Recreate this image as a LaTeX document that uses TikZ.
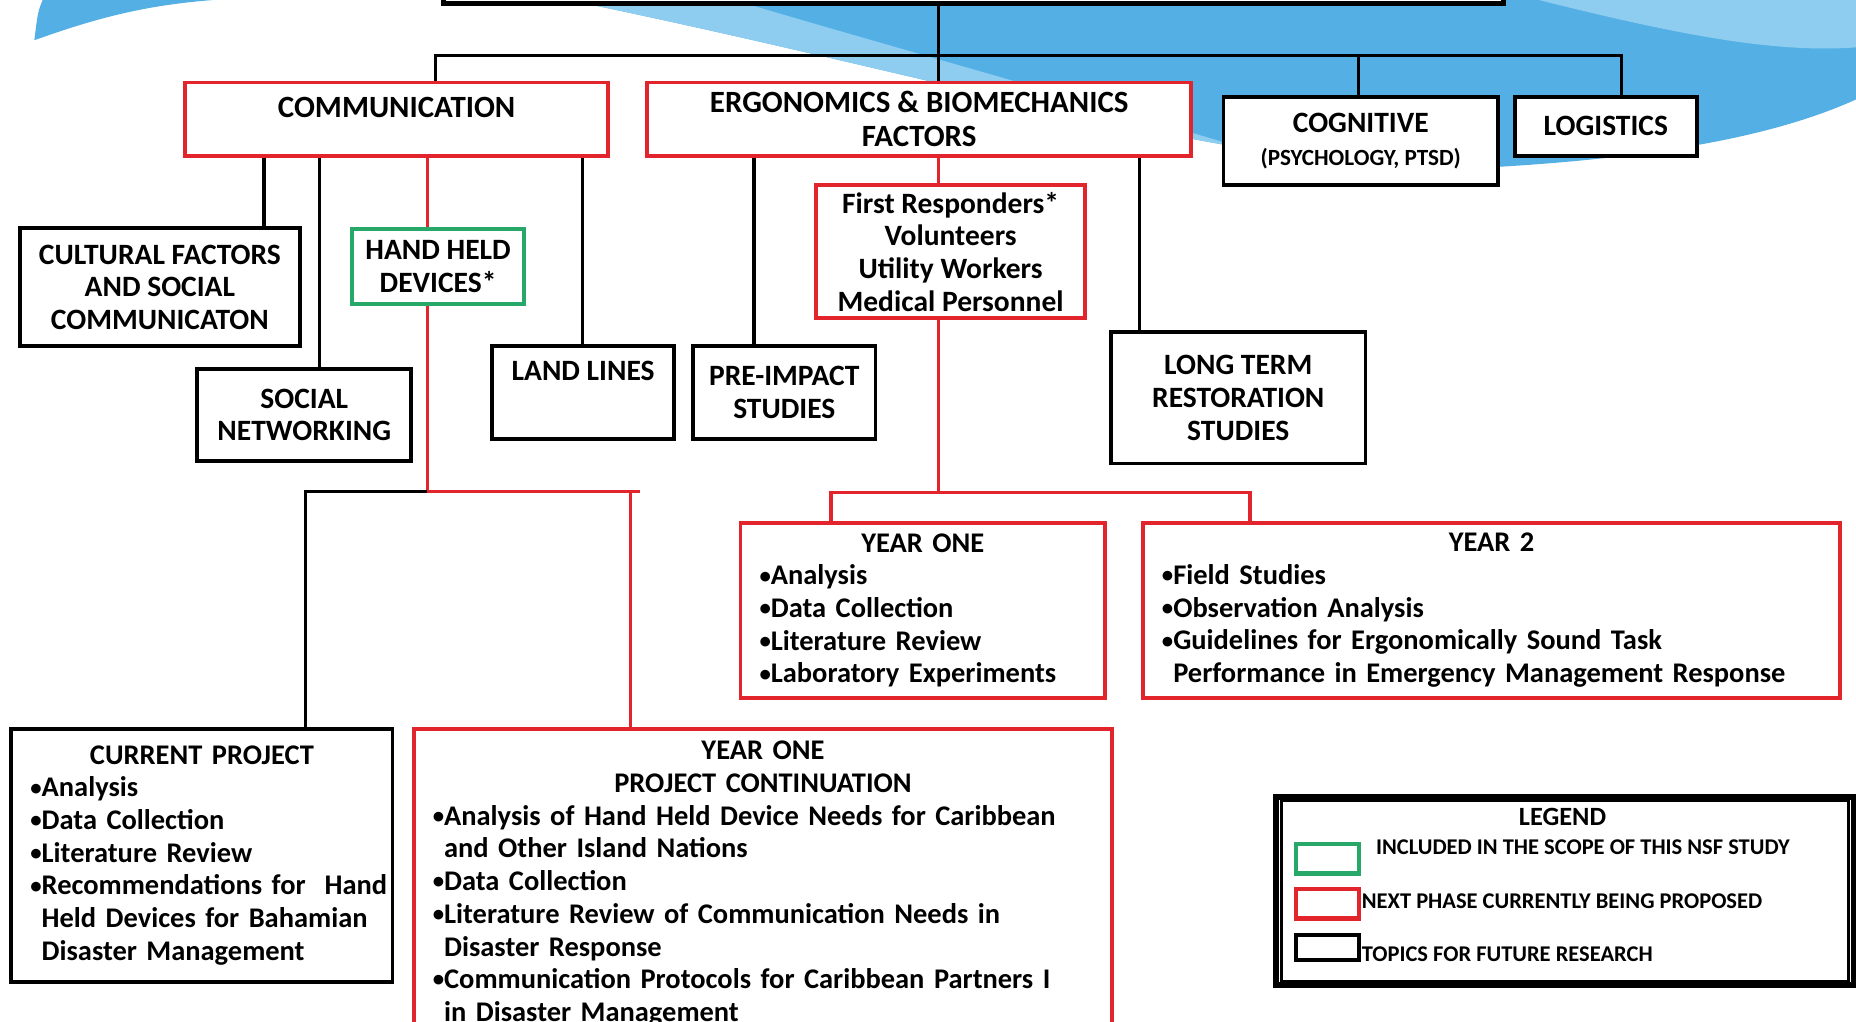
\documentclass[tikz,border=0pt]{standalone}
\usepackage{fontspec}
\setmainfont{Carlito}
\usetikzlibrary{fit}

\definecolor{tabred}{RGB}{226,36,44}
\definecolor{tabgreen}{RGB}{40,168,104}
\definecolor{skyblue}{RGB}{84,176,228}
\definecolor{skylight}{RGB}{142,205,240}
\newcommand{\dotitem}{\raisebox{0.5pt}{\scalebox{0.8}{•}}}
\newcommand{\midline}[1]{\leavevmode\null\hfill#1\hfill\null}

\begin{document}
\begin{tikzpicture}[
    x=0.011837cm, y=-0.011837cm,
    box/.style={draw, fill=white, line width=1.1pt, inner sep=0pt, align=center, anchor=north west,
        font=\bfseries\fontsize{8.4}{9.3}\selectfont},
    redbox/.style={box, draw=tabred},
    greenbox/.style={box, draw=tabgreen},
    bigbox/.style={redbox, font=\bfseries\fontsize{8.8}{9.8}\selectfont},
    listbox/.style={box, align=left, font=\bfseries\fontsize{8.1}{9.3}\selectfont},
    frame/.style={draw, fill=white, inner sep=0pt},
    link/.style={line width=0.9pt},
    redlink/.style={link, draw=tabred},
    swatch/.style={draw, line width=1.3pt, inner sep=0pt},
    legtext/.style={anchor=west, inner sep=0pt, font=\bfseries\fontsize{6.4}{7}\selectfont}
]
\clip (0,0) rectangle (1568,863);

% background swoosh
\fill[skyblue] (29,34) .. controls (90,12) and (130,4) .. (180,0) -- (36,0) .. controls (32,10) .. (29,34);
\fill[skyblue] (480,0) .. controls (700,45) and (900,100) .. (1050,125)
    .. controls (1150,142) and (1220,145) .. (1265,141)
    .. controls (1400,133) and (1500,115) .. (1568,84) -- (1568,0) -- cycle;
\fill[skylight] (480,0) .. controls (700,45) and (900,100) .. (1050,125)
    .. controls (900,80) and (720,30) .. (620,0) -- cycle;
\fill[skylight] (1300,0) .. controls (1420,30) and (1500,45) .. (1568,40) -- (1568,0) -- cycle;

% top level
\node[frame, line width=1.4pt, fit={(375,-60) (1270,3)}] (title) {};
\node[bigbox, minimum width=4.226cm, minimum height=0.734cm, text height=5.7pt, text depth=6.4pt]
    (comm) at (155,68) {COMMUNICATION};
\node[bigbox, minimum width=5.445cm, minimum height=0.734cm] (ergo) at (545,68)
    {ERGONOMICS \& BIOMECHANICS\\FACTORS};
\node[box, minimum width=2.746cm, minimum height=0.888cm] (cog) at (1032,80)
    {COGNITIVE\\{\fontsize{6.6}{9.3}\selectfont (PSYCHOLOGY, PTSD)}};
\node[box, minimum width=1.823cm, minimum height=0.592cm] (logi) at (1278,80) {LOGISTICS};

% communication branch
\node[box, minimum width=2.805cm, minimum height=1.184cm] (cult) at (15,191)
    {CULTURAL FACTORS\\AND SOCIAL\\COMMUNICATON};
\node[greenbox, minimum width=1.716cm, minimum height=0.746cm] (hand) at (296,192) {HAND HELD\\DEVICES*};
\node[box, minimum width=2.142cm, minimum height=0.923cm] (soc) at (165,310) {SOCIAL\\NETWORKING};
\node[box, minimum width=1.823cm, minimum height=0.923cm, text height=7pt, text depth=13.7pt]
    (land) at (414,291) {LAND LINES};

% ergonomics branch
\node[box, minimum width=1.823cm, minimum height=0.923cm] (pre) at (584,291) {PRE-IMPACT\\STUDIES};
\node[redbox, minimum width=2.687cm, minimum height=1.326cm] (first) at (688,155)
    {First Responders*\\Volunteers\\Utility Workers\\Medical Personnel};
\node[box, minimum width=2.545cm, minimum height=1.314cm] (long) at (937,279)
    {LONG TERM\\RESTORATION\\STUDIES};

% project phases
\node[listbox, draw=tabred, minimum width=3.646cm, minimum height=1.752cm, text width=3.267cm]
    (yone) at (624,440)
    {\midline{YEAR ONE}\\ \dotitem Analysis\\ \dotitem Data Collection\\
     \dotitem Literature Review\\ \dotitem Laboratory Experiments};
\node[listbox, draw=tabred, minimum width=6.972cm, minimum height=1.752cm, text width=6.593cm]
    (ytwo) at (964,440)
    {\midline{YEAR 2}\\ \dotitem Field Studies\\ \dotitem Observation Analysis\\
     \dotitem Guidelines for Ergonomically Sound Task\\
     \phantom{\dotitem}Performance in Emergency Management Response};
\node[listbox, minimum width=3.812cm, minimum height=2.533cm, text width=3.433cm] (cur) at (8,614)
    {\midline{CURRENT PROJECT}\\ \dotitem Analysis\\ \dotitem Data Collection\\
     \dotitem Literature Review\\ \mbox{\dotitem Recommendations for\ \ Hand}\\
     \phantom{\dotitem}Held Devices for Bahamian\\ \phantom{\dotitem}Disaster Management};
\node[listbox, draw=tabred, minimum width=6.984cm, minimum height=3.101cm, text width=6.605cm]
    (cont) at (348,614)
    {\midline{YEAR ONE}\\ \midline{PROJECT CONTINUATION}\\
     \dotitem Analysis of Hand Held Device Needs for Caribbean\\ \phantom{\dotitem}and Other Island Nations\\
     \dotitem Data Collection\\ \dotitem Literature Review of Communication Needs in\\
     \phantom{\dotitem}Disaster Response\\
     \dotitem Communication Protocols for Caribbean Partners I\\ \phantom{\dotitem}in Disaster Management};

% connectors
\draw[link] (793,0 |- title.south) -- (793,0 |- ergo.north);
\draw[link] (368,0 |- comm.north) -- (368,47) -- (1370,47) -- (1370,0 |- logi.north);
\draw[link] (1148,47) -- (1148,0 |- cog.north);

\draw[link] (223,0 |- comm.south) -- (223,0 |- cult.north);
\draw[link] (270,0 |- comm.south) -- (270,0 |- soc.north);
\draw[redlink] (361,0 |- comm.south) -- (361,0 |- hand.north);
\draw[link] (492,0 |- comm.south) -- (492,0 |- land.north);
\draw[redlink] (361,0 |- hand.south) -- (361,415) -- (541,415);
\draw[redlink] (533,415) -- (533,0 |- cont.north);
\draw[link] (361,415) -- (258,415) -- (258,0 |- cur.north);

\draw[link] (637,0 |- ergo.south) -- (637,0 |- pre.north);
\draw[redlink] (793,0 |- ergo.south) -- (793,0 |- first.north);
\draw[link] (963,0 |- ergo.south) -- (963,0 |- long.north);
\draw[redlink] (793,0 |- first.south) -- (793,416);
\draw[redlink] (702,0 |- yone.north) -- (702,416) -- (1056,416) -- (1056,0 |- ytwo.north);

% legend
\node[frame, line width=1.7pt, fit={(1078,673) (1566,832)}] (legend) {};
\draw[line width=0.7pt] ([shift={(7,6)}]legend.north west) rectangle ([shift={(-7,-6)}]legend.south east);
\node[inner sep=0pt, font=\bfseries\fontsize{7.5}{9}\selectfont] (legtitle) at (1320,690) {LEGEND};
\node[swatch, draw=tabgreen, fit={(1095,713) (1148,738)}] (swgreen) {};
\node[swatch, draw=tabred, fit={(1095,751) (1148,776)}] (swred) {};
\node[swatch, fit={(1095,790) (1148,811)}] (swblack) {};
\node[legtext] (txtgreen) at (1162,716) {INCLUDED IN THE SCOPE OF THIS NSF STUDY};
\node[legtext] (txtred) at (swred.east |- 0,761) {NEXT PHASE CURRENTLY BEING PROPOSED};
\node[legtext] (txtblack) at (swblack.east |- 0,806) {TOPICS FOR FUTURE RESEARCH};
\end{tikzpicture}
\end{document}
